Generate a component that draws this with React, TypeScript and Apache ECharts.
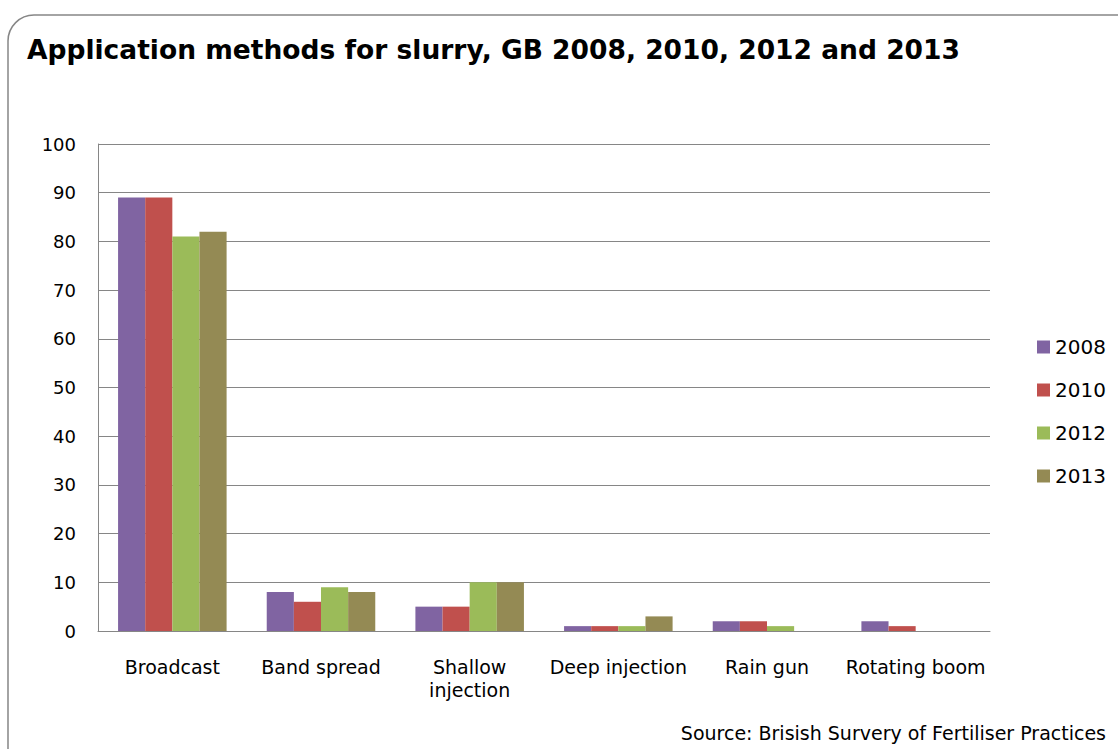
import React, { useEffect, useRef } from "react";
import * as echarts from "echarts";

const categories = ["Broadcast", "Band spread", "Shallow\ninjection", "Deep injection", "Rain gun", "Rotating boom"];
const years = ["2008", "2010", "2012", "2013"];
const values2008 = [89, 8, 5, 1, 2, 2];
const values2010 = [89, 6, 5, 1, 2, 1];
const values2012 = [81, 9, 10, 1, 1, 0];
const values2013 = [82, 8, 10, 3, 0, 0];
const seriesValues = [values2008, values2010, values2012, values2013];
const colors = ["#8064A2", "#C0504D", "#9BBB59", "#948A54"];
const titleText = "Application methods for slurry, GB 2008, 2010, 2012 and 2013";
const sourceText = "Source: Brisish Survery of Fertiliser Practices";

export default function App() {
  const ref = useRef<HTMLDivElement>(null);
  useEffect(() => {
    if (!ref.current) return;
    const chart = echarts.init(ref.current, null, { renderer: "svg" });
    const font = "DejaVu Sans, Verdana, sans-serif";
    chart.setOption({
      animation: false,
      backgroundColor: "#ffffff",
      textStyle: { fontFamily: font },
      graphic: [
        {
          type: "rect",
          shape: { x: 8, y: 15, width: 1140, height: 780, r: 26 },
          style: { fill: "none", stroke: "#868686", lineWidth: 1.5 },
          silent: true,
        },
        {
          type: "text",
          left: 27,
          top: 36,
          style: { text: titleText, font: `bold 26.5px ${font}`, fill: "#000" },
        },
        {
          type: "text",
          right: 12,
          top: 723,
          style: { text: sourceText, font: `19px ${font}`, fill: "#000" },
        },
      ],
      legend: {
        orient: "vertical",
        left: 1032,
        top: 332,
        itemWidth: 13,
        itemHeight: 13,
        itemGap: 23,
        icon: "rect",
        textStyle: { fontSize: 20, lineHeight: 20, color: "#000", fontFamily: font },
        data: years,
      },
      grid: { left: 98, right: 128, top: 144, bottom: 118, containLabel: false },
      xAxis: {
        type: "category",
        data: categories,
        axisLine: { lineStyle: { color: "#868686", width: 1 } },
        axisTick: { show: false },
        axisLabel: { fontSize: 19, color: "#000", margin: 24, lineHeight: 23, interval: 0 },
      },
      yAxis: {
        type: "value",
        min: 0,
        max: 100,
        interval: 10,
        axisLine: { show: true, lineStyle: { color: "#868686", width: 1 } },
        axisTick: { show: false },
        splitLine: { lineStyle: { color: "#868686", width: 1 } },
        axisLabel: { fontSize: 18, color: "#000", margin: 22 },
      },
      series: years.map((y, i) => ({
        name: y,
        type: "bar",
        data: seriesValues[i],
        itemStyle: { color: colors[i] },
        barGap: "0%",
        barCategoryGap: "27%",
      })),
    });
    return () => chart.dispose();
  }, []);
  return <div ref={ref} style={{ position: "fixed", left: 0, top: 0, width: 1118, height: 749 }} />;
}
